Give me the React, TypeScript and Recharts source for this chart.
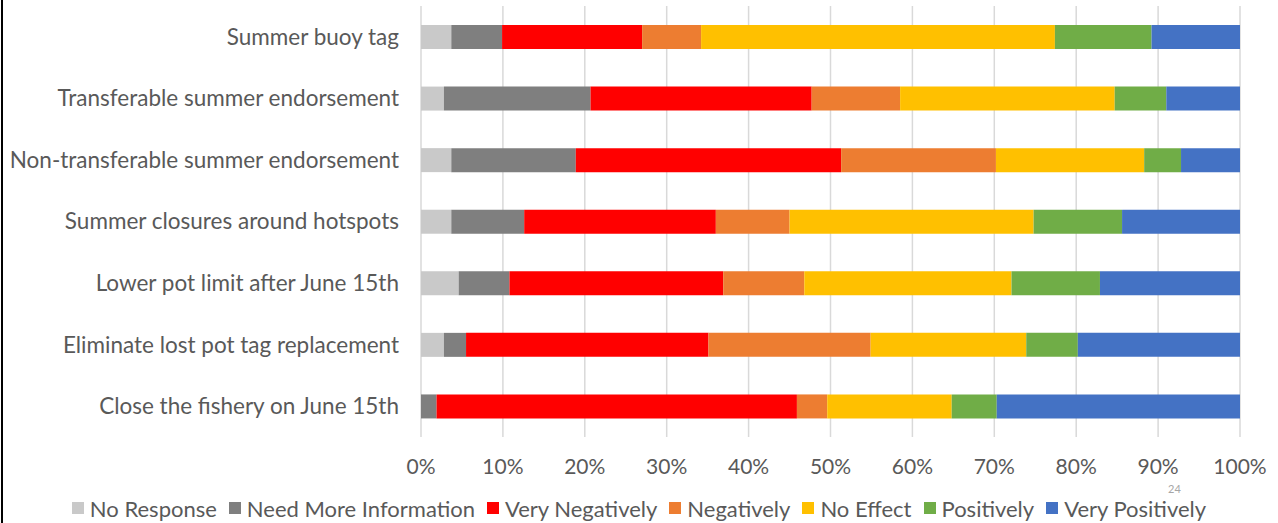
import React from "react";
import { BarChart, Bar, XAxis, YAxis, CartesianGrid, Legend } from "recharts";

const categories = [
  "Summer buoy tag",
  "Transferable summer endorsement",
  "Non-transferable summer endorsement",
  "Summer closures around hotspots",
  "Lower pot limit after June 15th",
  "Eliminate lost pot tag replacement",
  "Close the fishery on June 15th",
];

const seriesNames = [
  "No Response",
  "Need More Information",
  "Very Negatively",
  "Negatively",
  "No Effect",
  "Positively",
  "Very Positively",
];

const seriesColors = ["#c9c9c9", "#7f7f7f", "#ff0000", "#ed7d31", "#ffc000", "#70ad47", "#4472c4"];

// percent per category, same order as categories
const noResponse = [3.7, 2.8, 3.7, 3.7, 4.6, 2.8, 0];
const needMoreInfo = [6.2, 17.9, 15.2, 8.9, 6.2, 2.7, 1.9];
const veryNegatively = [17.1, 27.0, 32.4, 23.4, 26.1, 29.6, 44.0];
const negatively = [7.2, 10.8, 18.9, 9.0, 9.9, 19.8, 3.7];
const noEffect = [43.2, 26.2, 18.1, 29.8, 25.3, 19.0, 15.2];
const positively = [11.8, 6.3, 4.5, 10.8, 10.8, 6.3, 5.5];
const veryPositively = [10.8, 9.0, 7.2, 14.4, 17.1, 19.8, 29.7];

const xTicks = [0, 10, 20, 30, 40, 50, 60, 70, 80, 90, 100];

const seriesValues = [noResponse, needMoreInfo, veryNegatively, negatively, noEffect, positively, veryPositively];

const data = categories.map((name, i) => {
  const row: Record<string, string | number> = { name };
  seriesNames.forEach((s, j) => {
    row[s] = seriesValues[j][i];
  });
  return row;
});

const FONT = "Lato, 'Open Sans', sans-serif";
const TEXT = "#595959";

function LegendRow() {
  return (
    <div style={{ display: "flex", justifyContent: "center", height: 26, alignItems: "center", fontFamily: FONT, fontSize: 22, color: TEXT, whiteSpace: "nowrap" }}>
      {seriesNames.map((s, i) => (
        <span key={s} style={{ display: "inline-flex", alignItems: "center", marginRight: i < seriesNames.length - 1 ? 12 : 0 }}>
          <span style={{ width: 12, height: 12, background: seriesColors[i], display: "inline-block", marginRight: 6 }} />
          {s}
        </span>
      ))}
    </div>
  );
}

export default function App() {
  return (
    <div style={{ position: "absolute", left: 0, top: 0, width: 1278, height: 523, background: "#fff" }}>
      <div style={{ position: "absolute", left: 1, top: 0, width: 2, height: 523, background: "#000" }} />
      <BarChart
        width={1278}
        height={523}
        data={data}
        layout="vertical"
        margin={{ top: 6, right: 38, bottom: 30, left: 0 }}
      >
        <CartesianGrid horizontal={false} stroke="#d9d9d9" strokeWidth={1.5} />
        <XAxis
          type="number"
          domain={[0, 100]}
          ticks={xTicks}
          tickFormatter={(v) => `${v}%`}
          axisLine={false}
          tickLine={false}
          height={30}
          tickSize={0}
          tickMargin={22}
          interval={0}
          tick={{ fill: TEXT, fontSize: 21, fontFamily: FONT }}
        />
        <YAxis
          type="category"
          dataKey="name"
          width={421}
          axisLine={false}
          tickLine={false}
          tickSize={0}
          tickMargin={22}
          interval={0}
          tick={{ fill: TEXT, fontSize: 22.5, fontFamily: FONT }}
        />
        <Legend
          verticalAlign="bottom"
          wrapperStyle={{ left: 0, width: 1278, height: 26, bottom: 2 }}
          content={() => <LegendRow />}
        />
        {seriesNames.map((s, i) => (
          <Bar key={s} dataKey={s} stackId="a" fill={seriesColors[i]} barSize={24} isAnimationActive={false} />
        ))}
      </BarChart>
      <div style={{ position: "absolute", left: 1168, top: 483, lineHeight: "11px", fontFamily: FONT, fontSize: 11, color: "#a6a6a6" }}>24</div>
    </div>
  );
}
